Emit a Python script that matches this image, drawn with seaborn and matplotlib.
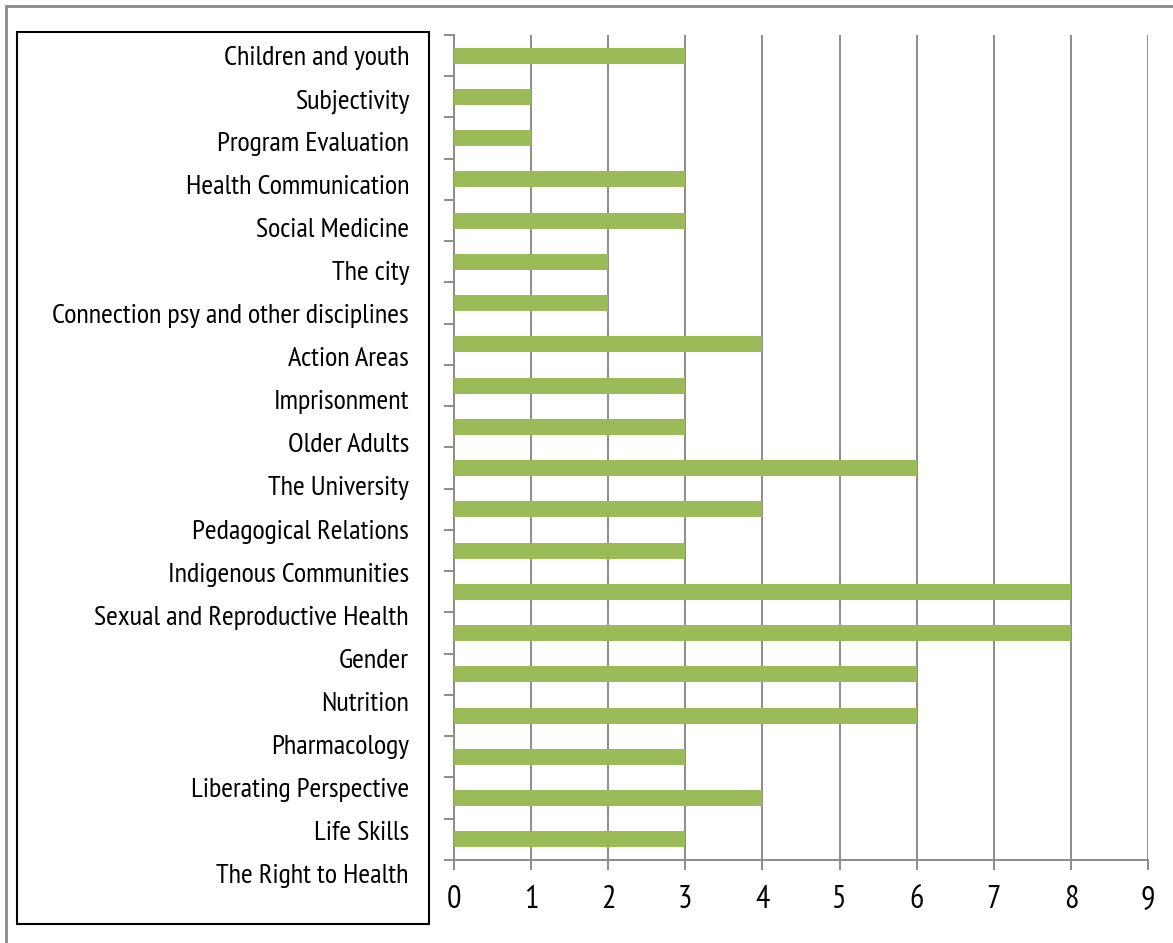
import numpy as np
import pandas as pd
import matplotlib
matplotlib.use("Agg")
import matplotlib.pyplot as plt
from matplotlib.patches import Rectangle
import seaborn as sns

categories = ["Children and youth", "Subjectivity", "Program Evaluation",
              "Health Communication", "Social Medicine", "The city",
              "Connection psy and other disciplines", "Action Areas",
              "Imprisonment", "Older Adults", "The University",
              "Pedagogical Relations", "Indigenous Communities",
              "Sexual and Reproductive Health", "Gender", "Nutrition",
              "Pharmacology", "Liberating Perspective", "Life Skills",
              "The Right to Health"]
values = [3, 1, 1, 3, 3, 2, 2, 4, 3, 3, 6, 4, 3, 8, 8, 6, 6, 3, 4, 3]
x_ticks = [0, 1, 2, 3, 4, 5, 6, 7, 8, 9]

sns.set_theme(style="white")
plt.rcParams["font.family"] = ["PT Sans Narrow", "Carlito", "DejaVu Sans"]

W, H = 1173, 943
fig = plt.figure(figsize=(W / 100, H / 100), dpi=100)
fig.patch.set_facecolor("white")

ax = fig.add_axes([454 / W, 1 - 860 / H, (1148 - 454) / W, (860 - 35) / H])
df = pd.DataFrame({"category": categories, "value": values})
sns.barplot(data=df, x="value", y="category", orient="h", color="#9BBB59",
            saturation=1, width=0.39, linewidth=0, ax=ax, zorder=3)

ax.set_xlim(0, 9)
ax.set_ylim(len(categories) - 0.5, -0.5)
ax.set_xlabel("")
ax.set_ylabel("")
ax.set_xticks(x_ticks)
ax.set_xticklabels([str(t) for t in x_ticks], fontsize=23, color="black")
ax.set_yticks(np.arange(-0.5, len(categories), 1))
ax.set_yticklabels([])

gc = "#8c8c8c"
ax.xaxis.grid(True, color=gc, lw=1.4)
ax.yaxis.grid(False)
ax.set_axisbelow(True)
for s in ["top", "right"]:
    ax.spines[s].set_visible(False)
for s in ["left", "bottom"]:
    ax.spines[s].set_visible(True)
    ax.spines[s].set_color(gc)
    ax.spines[s].set_linewidth(1.4)
ax.tick_params(axis="x", direction="out", length=7, width=1.4, color=gc, pad=11, bottom=True)
ax.tick_params(axis="y", direction="out", length=7, width=1.4, color=gc, left=True)

# label box
fig.add_artist(Rectangle((17 / W, 1 - 924 / H), (429 - 17) / W, (924 - 32) / H,
                         transform=fig.transFigure, fill=False, ec="black", lw=1.5))
for i, lab in enumerate(categories):
    fig.text(409 / W, 1 - (65 + i * 43.05) / H, lab, ha="right", va="baseline",
             fontsize=20.4, color="black")

# outer border
fig.add_artist(Rectangle((6 / W, -0.1), 1.2, 1.1 - 6 / H,
                         transform=fig.transFigure, fill=False, ec="#8a8a8a", lw=2))

fig.savefig("out.png", dpi=100)
